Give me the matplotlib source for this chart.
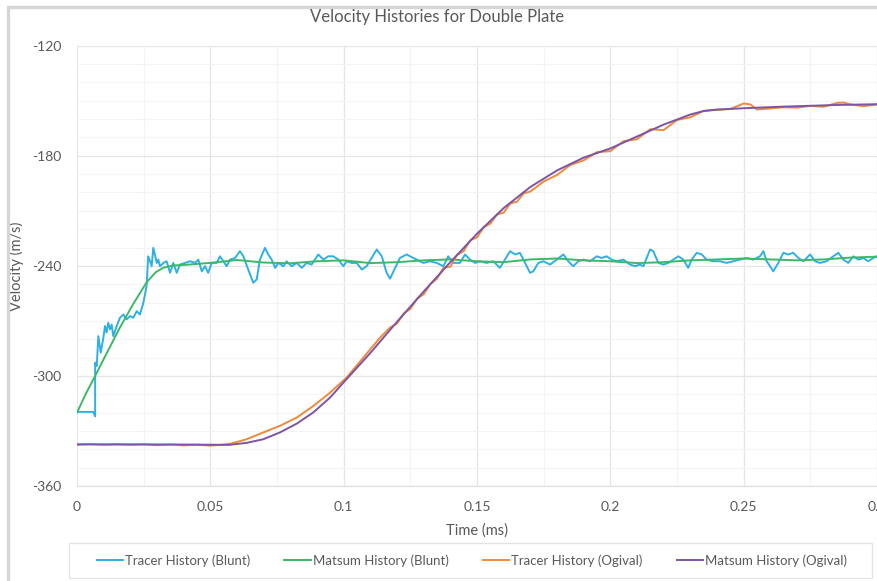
import matplotlib.pyplot as plt
from matplotlib.patches import Rectangle
from matplotlib.lines import Line2D
from matplotlib.ticker import MultipleLocator

plt.rcParams['font.family'] = ['Lato', 'DejaVu Sans']
plt.rcParams['axes.unicode_minus'] = False

# Tracer History (Blunt)
blunt_tracer_t = [
    0.0, 0.0061, 0.0068, 0.0068, 0.0074, 0.0080, 0.0089, 0.0098, 0.0105, 0.0111,
    0.0117, 0.0124, 0.0130, 0.0136, 0.0149, 0.0161, 0.0174, 0.0186, 0.0199, 0.0211,
    0.0224, 0.0236, 0.0249, 0.0261, 0.0267, 0.0274, 0.0280, 0.0286, 0.0292, 0.0299,
    0.0305, 0.0311, 0.0324, 0.0336, 0.0349, 0.0361, 0.0374, 0.0386, 0.0405, 0.0424,
    0.0443, 0.0455, 0.0468, 0.0480, 0.0492, 0.0505, 0.0524, 0.0536, 0.0549, 0.0561,
    0.0574, 0.0593, 0.0611, 0.0624, 0.0642, 0.0661, 0.0674, 0.0686, 0.0705, 0.0717,
    0.0730, 0.0743, 0.0755, 0.0774, 0.0786, 0.0805, 0.0824, 0.0843, 0.0861, 0.0880,
    0.0905, 0.0924, 0.0942, 0.0961, 0.0980, 0.0999, 0.1011, 0.1030, 0.1049, 0.1068,
    0.1086, 0.1105, 0.1124, 0.1143, 0.1161, 0.1174, 0.1193, 0.1211, 0.1236, 0.1261,
    0.1286, 0.1299, 0.1324, 0.1349, 0.1374, 0.1392, 0.1411, 0.1436, 0.1455, 0.1474,
    0.1493, 0.1511, 0.1536, 0.1561, 0.1586, 0.1605, 0.1624, 0.1643, 0.1661, 0.1680,
    0.1699, 0.1711, 0.1730, 0.1749, 0.1774, 0.1799, 0.1824, 0.1842, 0.1861, 0.1880,
    0.1899, 0.1924, 0.1949, 0.1967, 0.1986, 0.2005, 0.2024, 0.2049, 0.2074, 0.2093,
    0.2111, 0.2124, 0.2149, 0.2161, 0.2180, 0.2199, 0.2218, 0.2236, 0.2255, 0.2274,
    0.2292, 0.2305, 0.2324, 0.2343, 0.2361, 0.2386, 0.2411, 0.2436, 0.2461, 0.2486,
    0.2511, 0.2536, 0.2561, 0.2574, 0.2586, 0.2599, 0.2611, 0.2630, 0.2649, 0.2667,
    0.2686, 0.2705, 0.2724, 0.2749, 0.2768, 0.2786, 0.2811, 0.2836, 0.2855, 0.2874,
    0.2892, 0.2911, 0.2930, 0.2949, 0.2967, 0.2986, 0.3000,
]
blunt_tracer_v = [
    -319.6, -319.6, -322.0, -292.7, -294.6, -278.3, -287.3, -280.0, -272.8, -276.4,
    -271.0, -274.6, -272.0, -278.3, -272.8, -268.3, -266.5, -269.2, -267.4, -268.3,
    -264.7, -266.5, -260.1, -251.0, -234.8, -237.5, -240.2, -230.2, -233.8, -238.4,
    -236.6, -240.2, -238.4, -237.5, -243.8, -238.4, -243.8, -239.3, -238.4, -237.5,
    -238.4, -236.6, -243.0, -240.2, -243.8, -238.4, -238.4, -234.8, -237.5, -240.2,
    -236.6, -235.7, -232.0, -234.8, -242.0, -249.2, -247.4, -236.6, -230.2, -233.8,
    -236.6, -241.1, -238.4, -240.2, -237.5, -240.2, -238.4, -241.1, -238.4, -239.3,
    -233.8, -236.6, -234.8, -234.8, -236.6, -240.2, -237.5, -238.4, -238.4, -242.0,
    -240.2, -235.7, -231.1, -234.8, -243.8, -247.0, -241.1, -235.7, -233.8, -235.7,
    -237.5, -238.4, -237.5, -238.4, -240.2, -234.8, -238.4, -238.4, -233.8, -236.6,
    -238.4, -237.5, -238.4, -237.5, -241.1, -236.6, -232.0, -233.8, -232.9, -238.4,
    -243.8, -243.0, -238.4, -237.5, -239.3, -236.6, -233.8, -237.5, -240.2, -237.5,
    -236.6, -237.5, -234.8, -235.7, -234.8, -236.6, -237.5, -236.6, -239.3, -240.2,
    -239.3, -240.2, -231.1, -232.0, -238.4, -239.3, -238.4, -236.6, -234.8, -236.6,
    -241.1, -236.6, -232.9, -233.8, -236.6, -237.5, -237.5, -238.4, -237.5, -236.6,
    -235.7, -236.6, -234.8, -232.0, -237.5, -240.2, -243.0, -238.4, -232.9, -233.8,
    -232.9, -235.7, -237.5, -233.8, -237.5, -238.4, -237.5, -234.8, -232.9, -236.6,
    -238.4, -234.8, -236.6, -235.7, -237.5, -235.7, -234.8,
]

# Matsum History (Blunt)
blunt_matsum_t = [
    0.0, 0.0034, 0.0068, 0.011, 0.0161, 0.021, 0.0261, 0.0295, 0.0324, 0.036,
    0.04, 0.05, 0.06, 0.07, 0.08, 0.09, 0.10, 0.11, 0.12, 0.13,
    0.14, 0.15, 0.16, 0.17, 0.18, 0.19, 0.20, 0.21, 0.22, 0.23,
    0.24, 0.25, 0.26, 0.27, 0.28, 0.29, 0.30,
]
blunt_matsum_v = [
    -320.0, -309.5, -300.0, -288.0, -273.6, -261.0, -249.0, -243.5, -241.0, -239.8,
    -239.5, -238.4, -236.8, -238.2, -238.6, -237.5, -237.0, -238.5, -238.0, -237.0,
    -236.5, -237.5, -238.0, -236.5, -236.0, -237.0, -237.5, -238.5, -238.0, -237.0,
    -236.5, -236.0, -236.5, -237.0, -236.5, -235.5, -235.0,
]

# Tracer History (Ogival)
ogival_tracer_t = [
    0.000, 0.005, 0.010, 0.015, 0.020, 0.025, 0.030, 0.035, 0.040, 0.045,
    0.050, 0.055, 0.058, 0.0636, 0.0699, 0.0761, 0.0824, 0.0886, 0.0949, 0.1011,
    0.1074, 0.1136, 0.1175, 0.1200, 0.1225, 0.1250, 0.1275, 0.1300, 0.1325, 0.1350,
    0.1375, 0.1400, 0.1425, 0.1450, 0.1475, 0.1500, 0.1525, 0.1550, 0.1575, 0.1600,
    0.1625, 0.1650, 0.1675, 0.1700, 0.1750, 0.1800, 0.1850, 0.1900, 0.1950, 0.2000,
    0.2050, 0.2100, 0.2150, 0.2200, 0.2250, 0.2300, 0.2350, 0.2400, 0.2450, 0.2500,
    0.2525, 0.2550, 0.2600, 0.2650, 0.2700, 0.2750, 0.2800, 0.2850, 0.2875, 0.2900,
    0.2950, 0.3000,
]
ogival_tracer_v = [
    -337.5, -337.2, -337.6, -337.3, -337.6, -337.3, -337.8, -337.4, -337.9, -337.5,
    -338.0, -337.4, -336.8, -334.5, -330.8, -327.2, -322.7, -316.4, -309.1, -300.9,
    -290.0, -279.2, -273.5, -271.5, -266.0, -263.5, -258.0, -255.5, -250.0, -247.0,
    -241.0, -240.5, -234.0, -232.0, -226.0, -224.5, -219.0, -217.0, -212.0, -211.0,
    -206.0, -205.0, -200.5, -199.5, -194.0, -190.5, -185.0, -182.5, -178.0, -177.5,
    -172.0, -171.0, -165.5, -166.0, -160.5, -159.0, -155.5, -155.0, -154.5, -151.5,
    -152.0, -154.8, -154.2, -153.5, -153.8, -152.8, -153.3, -151.2, -151.0, -152.0,
    -153.0, -152.0,
]

# Matsum History (Ogival)
ogival_matsum_t = [
    0.000, 0.020, 0.040, 0.050, 0.057, 0.0636, 0.0699, 0.0761, 0.0824, 0.0886,
    0.0949, 0.1000, 0.1100, 0.1200, 0.1300, 0.1400, 0.1500, 0.1600, 0.1700, 0.1800,
    0.1900, 0.2000, 0.2100, 0.2200, 0.2300, 0.2350, 0.2400, 0.2500, 0.2650, 0.2850,
    0.3000,
]
ogival_matsum_v = [
    -337.3, -337.3, -337.4, -337.5, -337.6, -336.5, -334.5, -330.8, -326.0, -319.9,
    -311.8, -303.5, -287.5, -270.5, -254.0, -238.0, -222.5, -208.5, -197.0, -188.0,
    -181.0, -176.0, -169.5, -163.0, -157.5, -155.6, -154.8, -154.1, -153.2, -152.3,
    -151.9,
]

x_ticks = [0, 0.05, 0.1, 0.15, 0.2, 0.25, 0.3]
x_tick_labels = ['0', '0.05', '0.1', '0.15', '0.2', '0.25', '0.3']
y_ticks = [-360, -300, -240, -180, -120]

series_names = ['Tracer History (Blunt)', 'Matsum History (Blunt)',
                'Tracer History (Ogival)', 'Matsum History (Ogival)']
series_colors = ['#2fb0e3', '#3cb868', '#f08a3a', '#7d55a6']

text_gray = '#595959'

fig = plt.figure(figsize=(8.78, 5.81), dpi=100)
ax = fig.add_axes([77 / 878, 1 - 486 / 581, 800 / 878, (486 - 45.7) / 581])

ax.plot(blunt_tracer_t, blunt_tracer_v, color=series_colors[0], lw=1.4)
ax.plot(blunt_matsum_t, blunt_matsum_v, color=series_colors[1], lw=1.4)
ax.plot(ogival_tracer_t, ogival_tracer_v, color=series_colors[2], lw=1.4)
ax.plot(ogival_matsum_t, ogival_matsum_v, color=series_colors[3], lw=1.4)

ax.set_xlim(0, 0.3)
ax.set_ylim(-360, -120)
ax.set_xticks(x_ticks)
ax.set_xticklabels(x_tick_labels)
ax.set_yticks(y_ticks)
ax.xaxis.set_minor_locator(MultipleLocator(0.025))
ax.yaxis.set_minor_locator(MultipleLocator(10))
ax.grid(which='major', color='#e6e6e6', lw=0.9)
ax.grid(which='minor', color='#f4f4f4', lw=0.8)
ax.set_axisbelow(True)
ax.tick_params(which='both', length=0)
ax.tick_params(axis='x', labelsize=10, labelcolor=text_gray, pad=11)
ax.tick_params(axis='y', labelsize=10, labelcolor=text_gray, pad=11)
for s in ['top', 'right', 'left']:
    ax.spines[s].set_visible(False)
ax.spines['bottom'].set_color('#dcdcdc')

ax.set_xlabel('Time (ms)', fontsize=10.5, color=text_gray, labelpad=7)
ax.set_ylabel('Velocity (m/s)', fontsize=10.5, color=text_gray, labelpad=6)

fig.text(437 / 878, 1 - 17 / 581, 'Velocity Histories for Double Plate',
         ha='center', va='center', fontsize=12, color=text_gray)

# chart border and legend box
fig.add_artist(Rectangle((8 / 878, -0.05), 1.0, 1 - 6.5 / 581 + 0.05,
                         transform=fig.transFigure, fill=False,
                         edgecolor='#d6d6d6', lw=2.4))
fig.add_artist(Rectangle((69 / 878, 1 - 578 / 581), 803 / 878, 35 / 581,
                         transform=fig.transFigure, fill=False,
                         edgecolor='#e3e3e3', lw=0.9))

handles = [Line2D([], [], color=c, lw=1.4) for c in series_colors]
leg = fig.legend(handles, series_names, loc='center', ncol=4,
                 bbox_to_anchor=(472 / 878, 1 - 560.5 / 581), frameon=False,
                 fontsize=9.5, handlelength=2.0, handletextpad=0.15,
                 columnspacing=2.6)
for t in leg.get_texts():
    t.set_color(text_gray)

fig.savefig('out.png', dpi=100)
